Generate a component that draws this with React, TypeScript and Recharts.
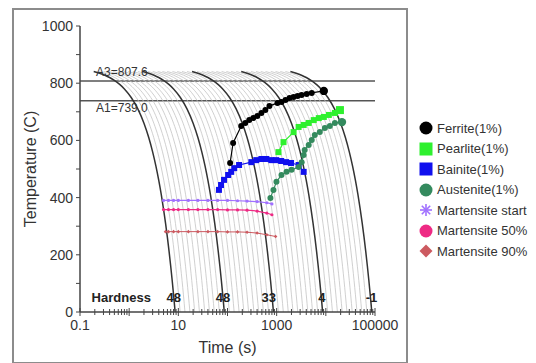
import { ComposedChart, Line, XAxis, YAxis, ReferenceLine, ReferenceDot } from "recharts";

// fastest cooling curve (100 C/s); the others are the same curve shifted in log time
const baseCurveTime = [0.19, 0.25, 0.32, 0.4, 0.5, 0.65, 0.8, 1.1, 1.5, 2, 2.5, 3, 3.5, 4, 4.5, 5, 5.5, 6, 6.5, 7, 7.5, 8, 8.3, 8.6];
const baseCurveTemp = [841, 835, 828, 820, 810, 795, 780, 750, 710, 660, 610, 560, 510, 460, 410, 360, 310, 260, 210, 160, 110, 60, 30, 0];

const coolingRates = [
  100, 79, 63, 50, 40, 32, 25, 20, 16, 12.6,
  10, 7.9, 6.3, 5, 4, 3.2, 2.5, 2, 1.6, 1.26,
  1, 0.79, 0.63, 0.5, 0.4, 0.32, 0.25, 0.2, 0.16, 0.126,
  0.1, 0.079, 0.063, 0.05, 0.04, 0.032, 0.025, 0.02, 0.016, 0.0126,
  0.01,
];
const markedRates = [100, 10, 1, 0.1, 0.01];

const hardnessTime = [8.1, 81, 690, 8300, 85000];
const hardnessValues = ["48", "48", "33", "4", "-1"];

const ferriteTime = [113, 130, 190, 230, 277, 335, 404, 489, 589, 712, 1038, 1253, 1514, 1829, 2210, 2668, 3222, 4080, 5166, 9100];
const ferriteTemp = [521, 591, 650, 661, 671, 678, 685, 696, 706, 720, 731, 734, 741, 748, 752, 755, 759, 762, 766, 773];

const pearliteTime = [1089, 1378, 2210, 2797, 3542, 4485, 5679, 7190, 9103, 11520, 15280, 19360];
const pearliteTemp = [559, 594, 629, 647, 654, 661, 671, 678, 682, 689, 696, 706];

const bainiteTime = [67, 74, 85, 103, 119, 137, 172, 306, 385, 489, 617, 778, 980, 1235, 1557, 1962, 2797, 3542];
const bainiteTemp = [427, 444, 462, 479, 490, 503, 514, 524, 531, 535, 535, 531, 531, 528, 524, 521, 514, 490];

const austeniteTime = [746, 860, 990, 1253, 1588, 2010, 2797, 3222, 3542, 3715, 4485, 5166, 5960, 7536, 9550, 12080, 15280, 21290];
const austeniteTemp = [399, 427, 455, 479, 490, 497, 507, 524, 549, 566, 584, 601, 619, 629, 643, 650, 661, 664];

const msTime = [5, 6.3, 8, 10, 16, 25, 40, 63, 100, 160, 250, 400, 630, 800];
const msTemp = [390, 390, 390, 390, 390, 390, 390, 390, 390, 389, 388, 386, 382, 378];
const m50Temp = [358, 358, 358, 358, 358, 358, 358, 358, 357, 357, 356, 353, 346, 340];
const m90Time = [5.5, 6.3, 8, 10, 16, 25, 40, 63, 100, 160, 250, 400, 630, 950];
const m90Temp = [281, 281, 281, 281, 281, 281, 281, 281, 280, 280, 279, 276, 270, 264];

const xDecades = [0.1, 1, 10, 100, 1000, 10000];
const xMantissas = [1, 2, 3, 4, 5, 6, 7, 8, 9];
const xLabels = [0.1, 10, 1000, 100000];
const yTicks = [0, 100, 200, 300, 400, 500, 600, 700, 800, 900, 1000];

const A3 = 807.6;
const A1 = 739.0;

const zip = (ts: number[], vs: number[]) => ts.map((t, i) => ({ t, T: vs[i] }));

const xTicks = [...xDecades.flatMap((d) => xMantissas.map((m) => +(d * m).toPrecision(3))), 100000];

const curves = coolingRates.map((rate) => ({
  rate,
  data: baseCurveTime.map((t, i) => ({ t: (t * 100) / rate, T: baseCurveTemp[i] })),
}));

const font = "'Liberation Sans', Arial, sans-serif";

function XTick(props: any) {
  const { x, y, payload } = props;
  const v = payload.value;
  const label = xLabels.find((l) => Math.abs(l - v) / l < 1e-6);
  const big = xMantissas[0] === +(v / Math.pow(10, Math.floor(Math.log10(v) + 1e-9))).toFixed(3);
  return (
    <g>
      <line x1={x} x2={x} y1={y - (big ? 4 : 3)} y2={y + (big ? 4 : 3)} stroke="#444" strokeWidth={1} />
      {label !== undefined && (
        <text x={x} y={y + 18} textAnchor="middle" fontSize={14} fill="#333" fontFamily={font}>
          {label}
        </text>
      )}
    </g>
  );
}

const circleDot = (fill: string, r: number, last: number) => (p: any) =>
  p.cx == null ? <g key={p.index} /> : <circle key={p.index} cx={p.cx} cy={p.cy} r={p.index === last ? r + 1.2 : r} fill={fill} />;

const squareDot = (fill: string, s: number, last: number) => (p: any) => {
  if (p.cx == null) return <g key={p.index} />;
  const h = p.index === last ? s / 2 + 1 : s / 2;
  return <rect key={p.index} x={p.cx - h} y={p.cy - h} width={h * 2} height={h * 2} fill={fill} />;
};

const diamondDot = (fill: string, s: number) => (p: any) =>
  p.cx == null ? (
    <g key={p.index} />
  ) : (
    <path key={p.index} d={`M${p.cx},${p.cy - s}L${p.cx + s},${p.cy}L${p.cx},${p.cy + s}L${p.cx - s},${p.cy}Z`} fill={fill} />
  );

const legendItems = [
  { name: "Ferrite(1%)", color: "#000000", icon: "circle" },
  { name: "Pearlite(1%)", color: "#2ef02e", icon: "square" },
  { name: "Bainite(1%)", color: "#1010ee", icon: "square" },
  { name: "Austenite(1%)", color: "#348a5e", icon: "circle" },
  { name: "Martensite start", color: "#a070ff", icon: "star" },
  { name: "Martensite 50%", color: "#ee2a84", icon: "circle" },
  { name: "Martensite 90%", color: "#cc5a60", icon: "diamond" },
];

function LegendIcon({ icon, color }: { icon: string; color: string }) {
  return (
    <svg width={14} height={14} style={{ display: "block" }}>
      {icon === "circle" && <circle cx={7} cy={7} r={6.5} fill={color} />}
      {icon === "square" && <rect x={0.5} y={0.5} width={13} height={13} fill={color} />}
      {icon === "diamond" && <path d="M7,0.5L13.5,7L7,13.5L0.5,7Z" fill={color} />}
      {icon === "star" && (
        <g stroke={color} strokeWidth={1.6}>
          <line x1={7} y1={1} x2={7} y2={13} />
          <line x1={1} y1={7} x2={13} y2={7} />
          <line x1={2.8} y1={2.8} x2={11.2} y2={11.2} />
          <line x1={2.8} y1={11.2} x2={11.2} y2={2.8} />
        </g>
      )}
    </svg>
  );
}

export default function App() {
  const gray = curves.filter((c) => !markedRates.includes(c.rate));
  const black = curves.filter((c) => markedRates.includes(c.rate));
  return (
    <div style={{ position: "absolute", left: 0, top: 0, width: 536, height: 363, background: "#fff", overflow: "hidden", fontFamily: font }}>
      <div style={{ position: "absolute", left: 12, top: 8, width: 392, height: 352, border: "2px solid #8c8c8c" }} />
      <div style={{ position: "absolute", left: 0, top: 0 }}>
        <ComposedChart width={536} height={363} margin={{ top: 26, right: 161, bottom: 7, left: 20 }}>
          <XAxis
            type="number"
            dataKey="t"
            scale="log"
            domain={[0.1, 100000]}
            allowDataOverflow
            ticks={xTicks}
            interval={0}
            tick={<XTick />}
            tickLine={false}
            tickSize={0}
            tickMargin={0}
            height={44}
            axisLine={{ stroke: "#444", strokeWidth: 1.5 }}
            label={{ value: "Time (s)", position: "insideBottom", offset: 3, fontSize: 16, fill: "#333", fontFamily: font }}
          />
          <YAxis
            type="number"
            dataKey="T"
            domain={[0, 1000]}
            ticks={yTicks}
            interval={0}
            width={60}
            tickSize={4}
            tickMargin={3}
            tickFormatter={(v: number) => (v % 200 === 0 ? String(v) : "")}
            tick={{ fontSize: 14, fill: "#333", fontFamily: font }}
            tickLine={{ stroke: "#444" }}
            axisLine={{ stroke: "#444", strokeWidth: 1.5 }}
            label={{ value: "Temperature (C)", angle: -90, position: "insideLeft", offset: 10, fontSize: 16, fill: "#333", fontFamily: font, style: { textAnchor: "middle" } }}
          />
          <ReferenceLine y={A3} stroke="#555" strokeWidth={1.5} />
          <ReferenceLine y={A1} stroke="#555" strokeWidth={1.5} />
          {gray.map((c) => (
            <Line key={"g" + c.rate} data={c.data} dataKey="T" type="monotone" stroke="#c4c4c4" strokeWidth={0.8} dot={false} isAnimationActive={false} />
          ))}
          {black.map((c) => (
            <Line key={"b" + c.rate} data={c.data} dataKey="T" type="monotone" stroke="#333" strokeWidth={1.5} dot={false} isAnimationActive={false} />
          ))}
          <Line data={zip(msTime, msTemp)} dataKey="T" stroke="#a070ff" strokeWidth={1.2} dot={circleDot("#a070ff", 1.6, -1)} isAnimationActive={false} />
          <Line data={zip(msTime, m50Temp)} dataKey="T" stroke="#ee2a84" strokeWidth={1.2} dot={circleDot("#ee2a84", 1.6, -1)} isAnimationActive={false} />
          <Line data={zip(m90Time, m90Temp)} dataKey="T" stroke="#cc5a60" strokeWidth={1} dot={diamondDot("#cc5a60", 1.8)} isAnimationActive={false} />
          <Line data={zip(bainiteTime, bainiteTemp)} dataKey="T" stroke="#1010ee" strokeWidth={1.2} dot={squareDot("#1010ee", 6, -1)} isAnimationActive={false} />
          <Line data={zip(austeniteTime, austeniteTemp)} dataKey="T" stroke="#348a5e" strokeWidth={1.2} dot={circleDot("#348a5e", 3, austeniteTime.length - 1)} isAnimationActive={false} />
          <Line data={zip(pearliteTime, pearliteTemp)} dataKey="T" stroke="#2ef02e" strokeWidth={1.2} dot={squareDot("#2ef02e", 6, pearliteTime.length - 1)} isAnimationActive={false} />
          <Line data={zip(ferriteTime, ferriteTemp)} dataKey="T" stroke="#000" strokeWidth={1.2} dot={circleDot("#000", 3, ferriteTime.length - 1)} isAnimationActive={false} />
          <ReferenceDot x={0.176} y={840} r={0} fill="none" stroke="none" label={{ value: "A3=807.6", position: "right", offset: 4, fontSize: 12, fill: "#333", fontFamily: font }} />
          <ReferenceDot x={0.176} y={713} r={0} fill="none" stroke="none" label={{ value: "A1=739.0", position: "right", offset: 4, fontSize: 12, fill: "#333", fontFamily: font }} />
          <ReferenceDot x={0.69} y={52} r={0} fill="none" stroke="none" label={{ value: "Hardness", position: "center", fontSize: 13, fontWeight: "bold", fill: "#222", fontFamily: font }} />
          {hardnessTime.map((t, i) => (
            <ReferenceDot key={"h" + i} x={t} y={52} r={0} fill="none" stroke="none" label={{ value: hardnessValues[i], position: "center", fontSize: 13, fontWeight: "bold", fill: "#222", fontFamily: font }} />
          ))}
        </ComposedChart>
      </div>
      <div style={{ position: "absolute", left: 419, top: 118 }}>
        {legendItems.map((it) => (
          <div key={it.name} style={{ display: "flex", alignItems: "center", height: 20.5, fontSize: 13, color: "#333" }}>
            <LegendIcon icon={it.icon} color={it.color} />
            <span style={{ marginLeft: 4, whiteSpace: "nowrap" }}>{it.name}</span>
          </div>
        ))}
      </div>
    </div>
  );
}
